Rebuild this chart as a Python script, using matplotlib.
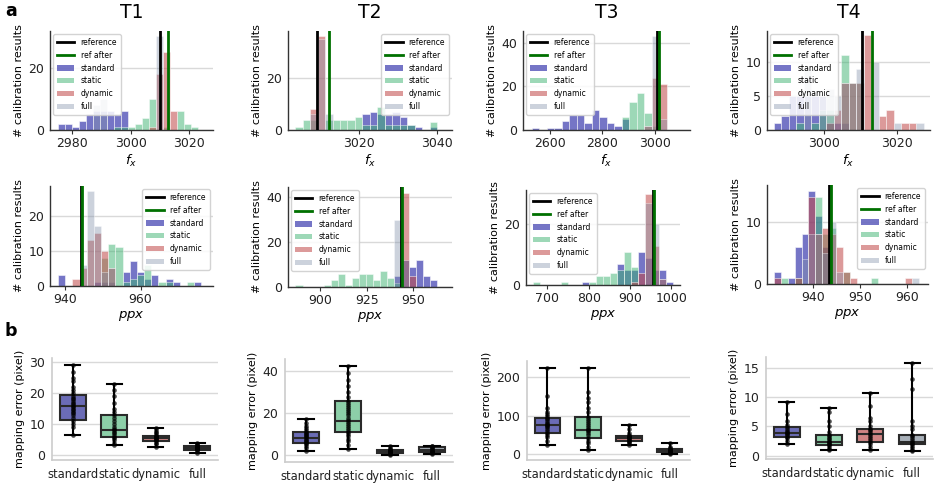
import numpy as np
import matplotlib
matplotlib.use('Agg')
import matplotlib.pyplot as plt
from matplotlib.lines import Line2D
from matplotlib.patches import Patch

titles = ['T1', 'T2', 'T3', 'T4']
series = ['standard', 'static', 'dynamic', 'full']

# ---------------- fx histograms ----------------
fx_bin_start = [2976.3, 3004.4, 2545.0, 2987.4]
fx_bin_width = [2.4, 1.93, 28.5, 2.05]
fx_standard = [
    [2, 2, 1, 3, 5, 6, 6, 6, 5, 6, 0, 0, 0, 0, 0, 0, 0, 0, 0, 0],
    [0, 0, 0, 0, 0, 0, 0, 0, 0, 6, 7, 6, 6, 7, 5, 2, 1, 0, 1],
    [1, 0, 1, 1, 4, 7, 7, 3, 9, 6, 3, 2, 5, 0, 0, 0, 0, 0],
    [1, 2, 5, 5, 5, 5, 5, 1, 1, 1, 0, 0, 0, 0, 0, 0, 0, 0, 0, 0],
]
fx_static = [
    [0, 0, 0, 0, 0, 0, 0, 0, 1, 1, 1, 2, 4, 10, 0, 1, 0, 6, 2, 1],
    [1, 4, 4, 0, 4, 4, 4, 4, 5, 2, 2, 9, 2, 2, 2, 2, 0, 0, 3],
    [0, 0, 0, 0, 0, 0, 0, 0, 0, 0, 0, 0, 6, 13, 17, 8, 2, 0],
    [0, 0, 0, 1, 0, 1, 3, 3, 0, 11, 7, 7, 0, 0, 0, 0, 0, 0, 0, 0],
]
fx_dynamic = [
    [0, 0, 0, 0, 0, 0, 0, 0, 0, 0, 0, 0, 0, 1, 18, 25, 6, 0, 0, 0],
    [0, 0, 8, 36, 0, 0, 0, 0, 0, 0, 0, 0, 0, 0, 0, 0, 0, 0, 0],
    [0, 0, 0, 0, 0, 0, 0, 0, 0, 0, 0, 0, 0, 0, 0, 2, 24, 21],
    [0, 0, 0, 0, 0, 0, 0, 1, 3, 7, 7, 7, 14, 0, 2, 3, 0, 1, 1, 0],
]
fx_full = [
    [0, 0, 0, 0, 0, 8, 10, 0, 0, 0, 0, 0, 0, 0, 30, 0, 0, 0, 0, 0],
    [0, 0, 6, 35, 6, 0, 0, 0, 0, 0, 0, 0, 0, 0, 0, 0, 0, 0, 0],
    [0, 0, 0, 0, 0, 0, 0, 0, 0, 0, 0, 0, 0, 0, 0, 2, 43, 5],
    [0, 0, 0, 0, 9, 0, 5, 6, 5, 7, 7, 9, 0, 10, 0, 0, 1, 0, 0, 1],
]
fx_reference = [3010.1, 3009.2, 3009.0, 3010.5]
fx_ref_after = [3013.0, 3012.2, 3015.0, 3013.2]
fx_xticks = [[2980, 3000, 3020], [3020, 3040], [2600, 2800, 3000], [3000, 3020]]
fx_yticks = [[0, 20], [0, 20], [0, 20, 40], [0, 5, 10]]

# ---------------- ppx histograms ----------------
ppx_bin_start = [939.1, 888.5, 674.0, 932.3]
ppx_bin_width = [1.9, 3.8, 16.9, 1.48]
ppx_standard = [
    [3, 0, 0, 0, 0, 1, 1, 1, 0, 4, 7, 4, 2, 3, 0, 2, 1, 0, 0, 1],
    [0, 0, 0, 0, 0, 0, 0, 0, 0, 0, 0, 0, 0, 0, 5, 12, 9, 12, 5, 3],
    [0, 0, 0, 0, 0, 0, 0, 1, 0, 0, 0, 0, 7, 5, 5, 11, 9, 5, 5, 1],
    [2, 0, 1, 6, 8, 15, 11, 6, 0, 0, 0, 0, 0, 0, 0, 0, 0, 0, 0, 0, 0],
]
ppx_static = [
    [0, 0, 0, 0, 0, 0, 8, 12, 11, 1, 2, 3, 6, 0, 1, 1, 0, 0, 1, 0],
    [1, 0, 0, 0, 1, 3, 6, 1, 4, 6, 6, 3, 7, 4, 2, 0, 0, 0, 0, 0],
    [1, 0, 0, 0, 1, 0, 0, 0, 1, 3, 3, 4, 5, 11, 6, 0, 0, 0, 0, 0],
    [0, 1, 0, 1, 0, 0, 14, 8, 9, 0, 2, 0, 0, 0, 1, 0, 0, 0, 0, 0, 0],
]
ppx_dynamic = [
    [0, 0, 2, 5, 13, 15, 10, 5, 0, 0, 0, 0, 0, 0, 0, 0, 0, 0, 0, 0],
    [0, 0, 0, 0, 0, 0, 0, 0, 0, 0, 0, 0, 0, 0, 0, 42, 5, 0, 0, 0],
    [0, 0, 0, 0, 0, 0, 0, 0, 0, 0, 0, 0, 0, 0, 1, 4, 30, 13, 2, 0],
    [1, 0, 0, 1, 0, 14, 8, 9, 8, 6, 2, 1, 0, 0, 0, 0, 0, 0, 0, 1, 0],
]
ppx_full = [
    [0, 0, 0, 6, 27, 17, 4, 5, 0, 0, 0, 0, 0, 0, 0, 0, 0, 0, 0, 0],
    [0, 0, 0, 0, 0, 0, 0, 0, 0, 0, 0, 0, 0, 0, 30, 12, 0, 0, 0, 0],
    [0, 0, 0, 0, 0, 0, 0, 0, 0, 0, 0, 0, 0, 0, 0, 0, 27, 20, 2, 0],
    [0, 0, 0, 0, 4, 8, 8, 5, 10, 2, 0, 0, 0, 0, 0, 0, 0, 0, 0, 0, 1],
]
ppx_reference = [944.1, 943.2, 956.0, 943.4]
ppx_ref_after = [944.4, 943.9, 959.0, 943.8]
ppx_xticks = [[940, 960], [900, 925, 950], [700, 800, 900, 1000], [940, 950, 960]]
ppx_yticks = [[0, 10, 20], [0, 20, 40], [0, 20], [0, 10]]

# ---------------- mapping error boxplots ----------------
# (whisker low, q1, median, q3, whisker high) per method
box_standard = [(6.5, 11.5, 15.8, 19.3, 29.2), (2.0, 5.8, 8.2, 11.0, 17.3),
                (25, 55, 75, 95, 222), (1.9, 3.2, 3.8, 4.9, 9.2)]
box_static = [(3.3, 5.8, 8.0, 12.9, 23.0), (3.0, 11.0, 16.3, 26.0, 42.5),
              (10, 43, 62, 97, 222), (0.9, 1.8, 2.3, 3.6, 8.2)]
box_dynamic = [(2.7, 4.7, 5.5, 6.3, 8.7), (0.3, 1.2, 2.0, 2.7, 4.3),
               (25, 35, 42, 47, 76), (1.0, 2.3, 3.7, 4.5, 10.8)]
box_full = [(0.8, 1.6, 2.3, 3.0, 3.8), (0.5, 1.8, 2.6, 3.8, 4.5),
            (1, 5, 8, 13, 30), (0.7, 1.9, 2.4, 3.6, 15.9)]

pts_standard = [
    [6.5, 9, 10, 11, 12, 13, 13.5, 14, 14.5, 15, 15.5, 16, 16.5, 17, 17.5, 18, 18.5, 19, 20, 21, 22, 24, 25, 27, 29.2],
    [2, 3.5, 4.5, 5.5, 6, 6.5, 7, 7.5, 8, 8.5, 9, 9.5, 10, 10.5, 11, 12, 13, 14, 15.5, 17.3],
    [25, 35, 45, 50, 55, 60, 65, 70, 72, 75, 78, 80, 85, 90, 95, 100, 105, 110, 120, 150, 222],
    [1.9, 2.5, 3, 3.2, 3.5, 3.7, 3.8, 4, 4.2, 4.5, 4.9, 5.2, 6, 7.2, 9.2],
]
pts_static = [
    [3.3, 4, 5, 5.5, 6, 6.5, 7, 7.5, 8, 8.5, 9, 10, 11, 12, 13, 14, 15, 17, 19, 21, 23],
    [3, 5, 7, 8, 9, 10, 11, 12, 13, 14, 15, 16, 17, 18, 19, 20, 21, 22, 23, 24, 25, 26, 28, 30, 33, 36, 39, 42.5],
    [10, 20, 30, 35, 43, 50, 55, 60, 62, 65, 70, 75, 80, 85, 90, 97, 110, 120, 135, 145, 160, 222],
    [0.9, 1.2, 1.5, 1.8, 2, 2.2, 2.3, 2.5, 2.8, 3, 3.3, 3.6, 4, 5, 6, 7.5, 8.2],
]
pts_dynamic = [
    [2.7, 3.5, 4, 4.5, 4.8, 5, 5.2, 5.5, 5.8, 6, 6.3, 6.6, 7, 7.5, 8, 8.7],
    [0.3, 0.8, 1.2, 1.5, 1.8, 2, 2.2, 2.5, 2.7, 3, 3.5, 4.3],
    [25, 30, 33, 35, 38, 40, 42, 44, 46, 47, 50, 55, 65, 76],
    [1, 1.5, 2, 2.3, 2.7, 3, 3.4, 3.7, 4, 4.3, 4.5, 5, 6, 6.5, 8.5, 10.8],
]
pts_full = [
    [0.8, 1.2, 1.5, 1.8, 2, 2.2, 2.4, 2.6, 2.8, 3, 3.2, 3.5, 3.8],
    [0.5, 1, 1.5, 1.8, 2.2, 2.6, 3, 3.4, 3.8, 4.2, 4.5],
    [1, 3, 5, 6, 7, 8, 9, 10, 12, 13, 16, 20, 30],
    [0.7, 1, 1.3, 1.6, 1.9, 2.1, 2.4, 2.7, 3, 3.3, 3.6, 4.5, 5, 6, 11.4, 13.2, 15.9],
]
box_yticks = [[0, 10, 20, 30], [0, 20, 40], [0, 100, 200], [0, 5, 10, 15]]

# ---------------- styling ----------------
hist_color = {'standard': '#1a1aa0', 'static': '#3cb371', 'dynamic': '#c04848', 'full': '#8090a8'}
hist_alpha = {'standard': 0.6, 'static': 0.5, 'dynamic': 0.55, 'full': 0.4}
box_color = {'standard': '#6b6cb6', 'static': '#8ccfa8', 'dynamic': '#d08484', 'full': '#a8b0b9'}

W, H = 942, 492


def rect(l, t, r, b):
    return [l / W, 1 - b / H, (r - l) / W, (b - t) / H]


row1 = [(50, 31, 213, 130), (288, 31, 452, 130), (523, 31, 690, 130), (767, 31, 930, 130)]
row2 = [(50, 186, 213, 286), (288, 187, 452, 287), (526, 190, 680, 285), (767, 185, 928, 284)]
row3 = [(52, 358, 218, 460), (285, 359, 453, 462), (527, 361, 690, 460), (766, 357, 933, 459)]
fx_xlim = [(2972.3, 3028.3), (3001.6, 3043.9), (2498, 3133), (2984.5, 3029.1)]
fx_ylim = [31.7, 38, 45.3, 14.6]
ppx_xlim = [(936, 979.2), (882.6, 970.7), (648.4, 1021), (930.1, 964.5)]
ppx_ylim = [28.4, 44.5, 31.4, 15.9]
box_ylim = [(-1.6, 31.4), (-3.2, 45.9), (-14.6, 241), (-0.6, 16.9)]
fx_leg = ['upper left', 'upper right', 'upper left', 'upper left']
ppx_leg = ['upper right', 'upper left', 'upper left', 'upper right']

plt.rcParams['font.family'] = ['DejaVu Sans']
fig = plt.figure(figsize=(W / 100, H / 100), dpi=100)


def style_hist(ax):
    ax.set_axisbelow(True)
    ax.grid(axis='y', color='#d9d9d9', lw=1.0)
    ax.grid(axis='x', visible=False)
    for s in ['top', 'right']:
        ax.spines[s].set_visible(False)
    for s in ['left', 'bottom']:
        ax.spines[s].set_color('#333333')
        ax.spines[s].set_linewidth(1.0)
    ax.tick_params(axis='x', length=3, width=0.8, color='#333333', labelsize=9, pad=2, labelcolor='#222222')
    ax.tick_params(axis='y', length=0, labelsize=9, pad=4, labelcolor='#222222')


def draw_hist(ax, start, width, data, ref, refa, xlim, ytop, xt, yt, loc, xlabel):
    for name, counts in zip(series, data):
        centers = start + width * np.arange(len(counts))
        ax.bar(centers, counts, width=width, color=hist_color[name], alpha=hist_alpha[name],
               edgecolor='white', linewidth=0.6, zorder=2)
    ax.axvline(ref, color='black', lw=2, zorder=4)
    ax.axvline(refa, color='#007000', lw=2, zorder=4)
    ax.set_xlim(*xlim)
    ax.set_ylim(0, ytop)
    ax.set_xticks(xt)
    ax.set_yticks(yt)
    style_hist(ax)
    ax.set_ylabel('# calibration results', fontsize=8, labelpad=3)
    ax.set_xlabel(xlabel, fontsize=9.5, labelpad=2)
    handles = [Line2D([0], [0], color='black', lw=2), Line2D([0], [0], color='#007000', lw=2)]
    handles += [Patch(facecolor=hist_color[n], alpha=hist_alpha[n], edgecolor='none') for n in series]
    ax.legend(handles, ['reference', 'ref after'] + series, loc=loc, fontsize=5.5,
              frameon=True, fancybox=True, framealpha=0.85, edgecolor='#cccccc',
              handlelength=2.3, handletextpad=0.8, labelspacing=0.5, borderpad=0.5,
              borderaxespad=0.4)


for i in range(4):
    ax = fig.add_axes(rect(*row1[i]))
    draw_hist(ax, fx_bin_start[i], fx_bin_width[i],
              [fx_standard[i], fx_static[i], fx_dynamic[i], fx_full[i]],
              fx_reference[i], fx_ref_after[i], fx_xlim[i], fx_ylim[i],
              fx_xticks[i], fx_yticks[i], fx_leg[i], r'$f_x$')
    ax.set_title(titles[i], fontsize=13.5, pad=9)

    ax = fig.add_axes(rect(*row2[i]))
    draw_hist(ax, ppx_bin_start[i], ppx_bin_width[i],
              [ppx_standard[i], ppx_static[i], ppx_dynamic[i], ppx_full[i]],
              ppx_reference[i], ppx_ref_after[i], ppx_xlim[i], ppx_ylim[i],
              ppx_xticks[i], ppx_yticks[i], ppx_leg[i], r'$ppx$')

    ax = fig.add_axes(rect(*row3[i]))
    boxes = [box_standard[i], box_static[i], box_dynamic[i], box_full[i]]
    pts = [pts_standard[i], pts_static[i], pts_dynamic[i], pts_full[i]]
    stats = []
    for name, b in zip(series, boxes):
        stats.append(dict(whislo=b[0], q1=b[1], med=b[2], q3=b[3], whishi=b[4], label=name))
    bp = ax.bxp(stats, positions=range(4), widths=0.62, patch_artist=True, showfliers=False,
                capwidths=0.36,
                boxprops=dict(edgecolor='#2a2a2a', linewidth=1.5),
                medianprops=dict(color='#2a2a2a', linewidth=1.5),
                whiskerprops=dict(color='black', linewidth=1.5),
                capprops=dict(color='black', linewidth=1.5))
    for patch, name in zip(bp['boxes'], series):
        patch.set_facecolor(box_color[name])
    for j, v in enumerate(pts):
        ax.scatter(np.full(len(v), j), v, s=11, color='black', alpha=0.7, zorder=5, linewidths=0)
    ax.set_xlim(-0.5, 3.5)
    ax.set_ylim(*box_ylim[i])
    ax.set_yticks(box_yticks[i])
    ax.set_xticks(range(4))
    ax.set_xticklabels(series)
    ax.set_axisbelow(True)
    ax.grid(axis='y', color='#d9d9d9', lw=1.0)
    for s in ['top', 'right']:
        ax.spines[s].set_visible(False)
    for s in ['left', 'bottom']:
        ax.spines[s].set_color('#cccccc')
        ax.spines[s].set_linewidth(1.2)
    ax.tick_params(axis='x', length=0, labelsize=8.3, pad=6, labelcolor='#222222')
    ax.tick_params(axis='y', length=0, labelsize=9, pad=5, labelcolor='#222222')
    ax.set_ylabel('mapping error (pixel)', fontsize=8, labelpad=3)

fig.text(5 / W, 1 - 11 / H, 'a', fontsize=12.5, fontweight='bold', va='center')
fig.text(5 / W, 1 - 331 / H, 'b', fontsize=12.5, fontweight='bold', va='center')

fig.savefig('out.png', dpi=100)
